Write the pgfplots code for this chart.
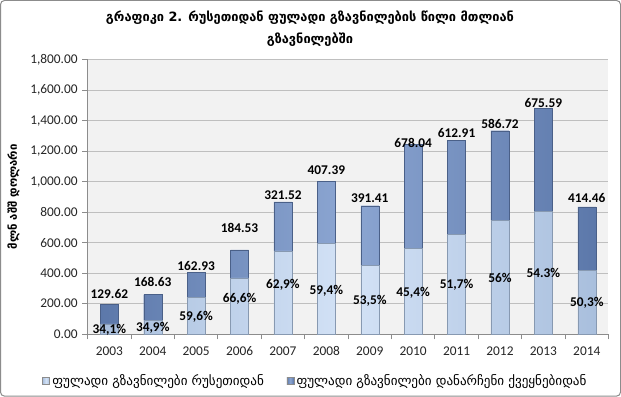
\documentclass[border=0pt]{standalone}
\usepackage{pgfplots}
\usepackage{pgfplotstable}
\pgfplotsset{compat=1.18}
\usepackage{fontspec}
\setmainfont{Carlito}
\newfontfamily\geo{DejaVu Sans}
\definecolor{darkA}{HTML}{5C78AA}
\definecolor{darkB}{HTML}{8CA6D2}
\definecolor{lightA}{HTML}{A9BFDD}
\definecolor{lightB}{HTML}{D3E2F6}
\definecolor{gridc}{HTML}{BFBFBF}
\definecolor{axc}{HTML}{8C8C8C}
\definecolor{bgc}{HTML}{F2F2F2}

\pgfplotstableread{
x rus oth laby lab
0 67.07 129.62 262 129.62
1 90.40 168.63 341 168.63
2 240.36 162.93 446 162.93
3 367.95 184.53 695 184.53
4 545.11 321.52 911 321.52
5 596.03 407.39 1075 407.39
6 450.33 391.41 892 391.41
7 563.79 678.04 1252 678.04
8 656.05 612.91 1318 612.91
9 746.74 586.72 1377 586.72
10 802.72 675.59 1515 675.59
11 419.46 414.46 892 414.46
}\datatab

\begin{document}
\begin{tikzpicture}
\fill[white] (-65.25pt,-46.5pt) rectangle (399pt,249.75pt);
\begin{axis}[
  at={(0,0)}, anchor=south west,
  scale only axis, width=390pt, height=205.5pt,
  ybar stacked, bar width=13.5pt,
  xmin=-0.5, xmax=11.5, ymin=0, ymax=1800,
  axis background/.style={fill=bgc},
  axis lines*=left, axis line style={-, draw=axc, line width=0.6pt},
  xtick={0,...,11},
  xticklabels={2003,2004,2005,2006,2007,2008,2009,2010,2011,2012,2013,2014},
  minor xtick={-0.5,0.5,...,11.5},
  major x tick style={draw=none},
  minor x tick style={draw=axc, line width=0.6pt},
  minor tick length=4pt,
  ytick={0,200,...,1800},
  ytick style={draw=axc, line width=0.6pt},
  major tick length=4pt,
  tick align=outside,
  ymajorgrids, major grid style={draw=gridc, line width=0.75pt},
  tick label style={font=\fontsize{10}{12}\selectfont, text=black!85},
  xticklabel style={yshift=-2pt},
  yticklabel style={/pgf/number format/.cd, fixed, fixed zerofill, precision=2, 1000 sep={,}, assume math mode=true},
  legend style={at={(0.438,-0.1715)}, anchor=center, draw=none, fill=none,
    legend columns=2, font=\geo\fontsize{9.8}{11}\selectfont,
    /tikz/every even column/.append style={column sep=15pt}},
  legend image code/.code={\draw[#1, draw=axc, line width=0.3pt] (0pt,-2.6pt) rectangle (5.2pt,2.6pt);},
]
\addplot[draw=lightA!80!black, line width=0.3pt, left color=lightA, right color=lightA, middle color=lightB] table[x=x, y=rus] {\datatab};
\addlegendentry{ფულადი გზავნილები რუსეთიდან}
\addplot[draw=darkA!80!black, line width=0.3pt, left color=darkA, right color=darkA, middle color=darkB]
  table[x=x, y=oth] {\datatab};
\addlegendentry{ფულადი გზავნილები დანარჩენი ქვეყნებიდან}
\end{axis}
\begin{axis}[
  at={(0,0)}, anchor=south west,
  scale only axis, width=390pt, height=205.5pt,
  xmin=-0.5, xmax=11.5, ymin=0, ymax=1800, hide axis]
\addplot[draw=none, mark=none, nodes near coords, point meta=explicit symbolic,
  every node near coord/.append style={font=\bfseries\fontsize{10}{12}\selectfont, text=black, anchor=center}]
  table[x=x, y=laby, meta=lab] {\datatab};
\addplot[draw=none, mark=none, nodes near coords, point meta=explicit symbolic,
  every node near coord/.append style={font=\bfseries\fontsize{10}{12}\selectfont, text=black, anchor=center}]
  coordinates {(0,28) [34{,}1\%] (1,41) [34{,}9\%] (2,111) [59{,}6\%] (3,229) [66{,}6\%]
   (4,321) [62{,}9\%] (5,282) [59{,}4\%] (6,216) [53{,}5\%] (7,269) [45{,}4\%]
   (8,321) [51{,}7\%] (9,367) [56\%] (10,400) [54.3\%] (11,203) [50{,}3\%]};
\end{axis}
\node[font=\geo\bfseries\fontsize{9.6}{12}\selectfont] at (166.5pt,237pt) {გრაფიკი 2. რუსეთიდან ფულადი გზავნილების წილი მთლიან};
\node[font=\geo\bfseries\fontsize{9.6}{12}\selectfont] at (166.5pt,220.5pt) {გზავნილებში};
\node[font=\geo\bfseries\fontsize{8.5}{10}\selectfont, rotate=90] at (-55.5pt,102.75pt) {მლნ აშშ დოლარი};
\draw[rounded corners=3pt, draw=axc, line width=0.75pt] (-65.25pt,-46.5pt) rectangle (399pt,249.75pt);
\end{tikzpicture}
\end{document}
